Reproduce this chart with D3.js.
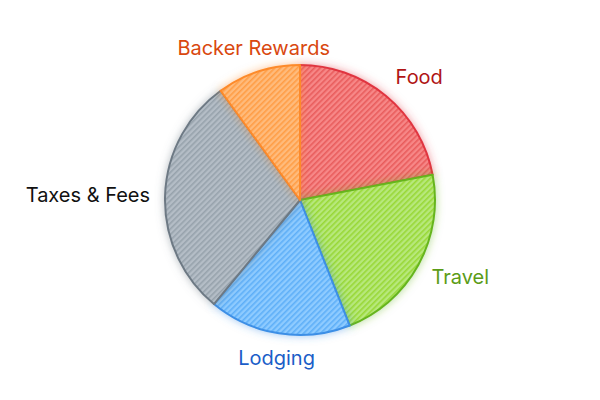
<!DOCTYPE html>
<html>
<head>
<meta charset="utf-8">
<script src="https://cdn.jsdelivr.net/npm/d3@7"></script>
<style>
  html, body { margin: 0; padding: 0; background: #fff; }
  svg { display: block; }
  text { font-family: "Inter", "Noto Sans", sans-serif; }
</style>
</head>
<body>
<svg id="chart" width="600" height="400"></svg>
<script>
// ---- data ----
const categories = ["Food", "Travel", "Lodging", "Taxes & Fees", "Backer Rewards"];
const values = [22, 22, 17, 29, 10];
// ---- styles per category ----
const fillBg =   ["#f78787", "#b7e87c", "#8ecbff", "#b4bdc6", "#ffbb7c"];
const fillLine = ["#e85c5c", "#98d836", "#5eaff8", "#97a2ac", "#ff9d45"];
const strokeCol = ["#e03540", "#66b51f", "#3d8fe6", "#6d7984", "#fd8a2a"];
const labelCol = ["#b01515", "#5b9c17", "#1b5ec8", "#111111", "#d9480f"];

const W = 600, H = 400;
const cx = 300, cy = 200, R = 135;
const svg = d3.select("#chart");
const defs = svg.append("defs");

categories.forEach((c, i) => {
  const p = defs.append("pattern")
    .attr("id", "pat" + i)
    .attr("patternUnits", "userSpaceOnUse")
    .attr("width", 4).attr("height", 4)
    .attr("patternTransform", "rotate(45)");
  p.append("rect").attr("width", 4).attr("height", 4).attr("fill", fillBg[i]);
  p.append("rect").attr("x", 0).attr("width", 1.6).attr("height", 4).attr("fill", fillLine[i]);

  const f = defs.append("filter").attr("id", "glow" + i)
    .attr("x", "-30%").attr("y", "-30%").attr("width", "160%").attr("height", "160%");
  f.append("feDropShadow").attr("dx", 0).attr("dy", 0).attr("stdDeviation", 4.5)
    .attr("flood-color", strokeCol[i]).attr("flood-opacity", 0.5);
});

const data = categories.map((c, i) => ({ name: c, value: values[i], i }));
const pie = d3.pie().value(d => d.value).sort(null);
const arcs = pie(data);
const arc = d3.arc().innerRadius(0).outerRadius(R);

const g = svg.append("g").attr("transform", `translate(${cx},${cy})`);

g.selectAll("path.slice")
  .data(arcs)
  .join("path")
  .attr("class", "slice")
  .attr("d", arc)
  .attr("fill", d => `url(#pat${d.data.i})`)
  .attr("stroke", d => strokeCol[d.data.i])
  .attr("stroke-width", 2)
  .attr("stroke-linejoin", "round")
  .attr("filter", d => `url(#glow${d.data.i})`);

// labels
const labelR = 150;
const fontSize = 20;
g.selectAll("text.lbl")
  .data(arcs)
  .join("text")
  .attr("class", "lbl")
  .attr("font-size", fontSize)
  .attr("fill", d => labelCol[d.data.i])
  .text(d => d.data.name)
  .each(function (d) {
    const a = (d.startAngle + d.endAngle) / 2;
    const s = Math.sin(a), c = -Math.cos(a);
    const px = labelR * s, py = labelR * c;
    const el = d3.select(this);
    let anchor = "middle";
    if (s > 0.4) anchor = "start";
    else if (s < -0.4) anchor = "end";
    const h = fontSize;
    const y = py + c * h / 2 + fontSize * 0.36;
    el.attr("text-anchor", anchor).attr("x", px).attr("y", y);
  });
</script>
</body>
</html>
